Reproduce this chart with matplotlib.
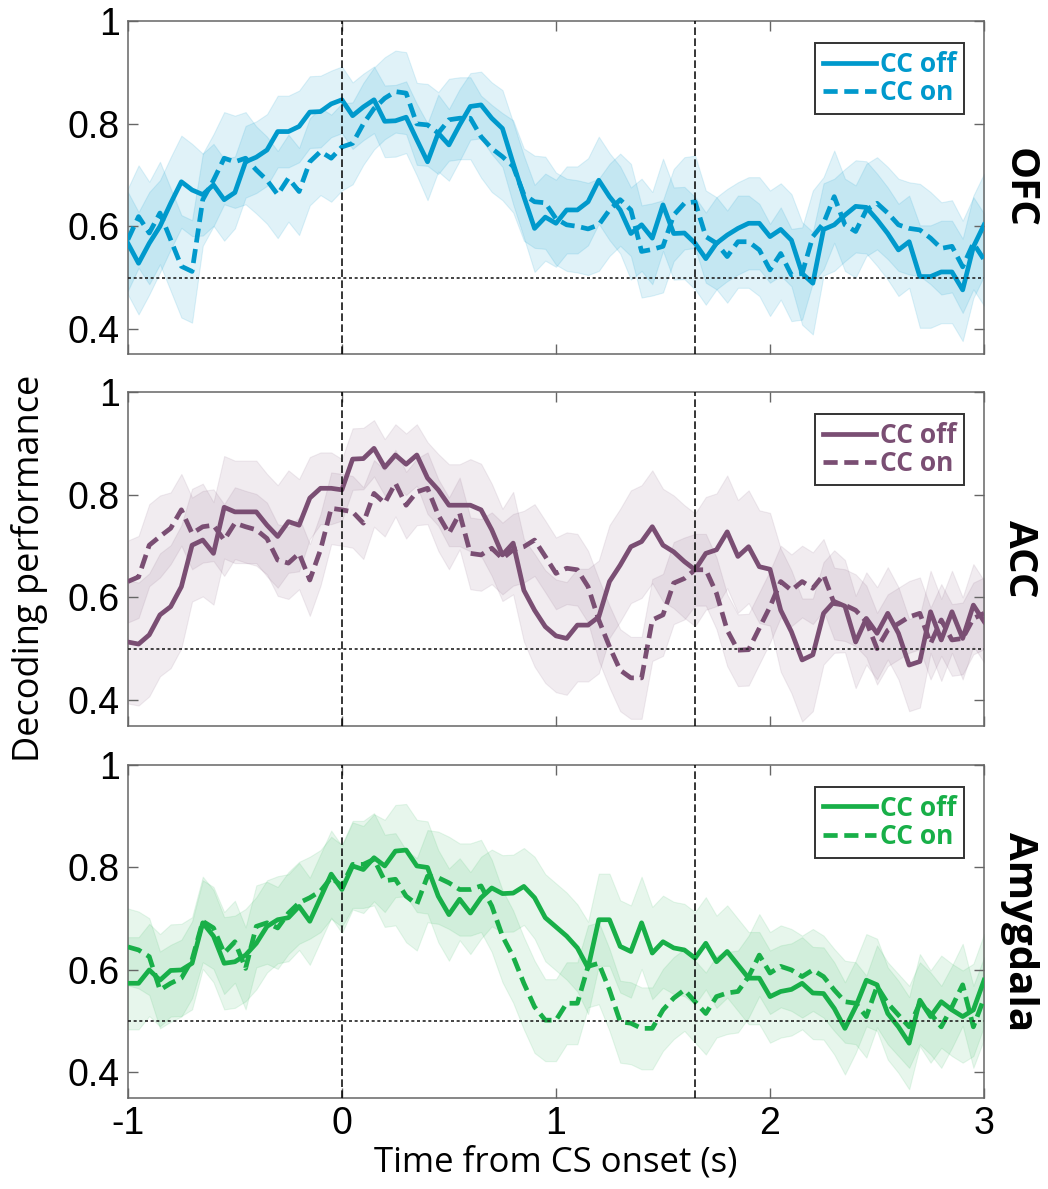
import numpy as np
import matplotlib
matplotlib.use("Agg")
import matplotlib.pyplot as plt

plt.rcParams['font.family'] = ['Liberation Sans', 'DejaVu Sans']

# time axis, 0.05 s bins from -1 to 3 s
t = np.linspace(-1, 3, 81)

# ---- OFC ----
ofc_off = [0.567, 0.528, 0.567, 0.600, 0.645, 0.687, 0.671, 0.662, 0.681, 0.652,
           0.666, 0.726, 0.735, 0.749, 0.785, 0.785, 0.795, 0.823, 0.824, 0.839,
           0.847, 0.816, 0.833, 0.847, 0.805, 0.806, 0.813, 0.769, 0.726, 0.782,
           0.759, 0.798, 0.834, 0.837, 0.811, 0.791, 0.723, 0.658, 0.596, 0.618,
           0.606,
           0.632, 0.632, 0.648, 0.690, 0.658, 0.632, 0.586, 0.603, 0.577, 0.642,
           0.586, 0.587, 0.567, 0.537, 0.567, 0.583, 0.596, 0.606, 0.606, 0.580,
           0.594, 0.573, 0.508, 0.489, 0.594, 0.603, 0.622, 0.639, 0.637, 0.613,
           0.586, 0.554, 0.570, 0.502, 0.502, 0.511, 0.511, 0.476, 0.560, 0.603]
ofc_on = [0.574, 0.619, 0.587, 0.626, 0.574, 0.522, 0.512, 0.652, 0.690, 0.733,
          0.726, 0.733, 0.710, 0.690, 0.662, 0.694, 0.668, 0.726, 0.746, 0.733,
          0.755, 0.762, 0.800, 0.830, 0.850, 0.863, 0.860, 0.800, 0.798, 0.782,
          0.808, 0.811, 0.811, 0.775, 0.752, 0.736, 0.717, 0.662, 0.648, 0.646,
          0.615,
          0.603, 0.600, 0.595, 0.603, 0.632, 0.652, 0.632, 0.551, 0.555, 0.561,
          0.622, 0.645, 0.648, 0.580, 0.567, 0.541, 0.570, 0.570, 0.554, 0.515,
          0.547, 0.505, 0.508, 0.580, 0.606, 0.658, 0.603, 0.590, 0.632, 0.645,
          0.626, 0.603, 0.596, 0.593, 0.577, 0.557, 0.561, 0.521, 0.567, 0.535]
ofc_off_sem = [0.10, 0.10, 0.10, 0.09, 0.09, 0.09, 0.09, 0.08, 0.08, 0.08,
               0.07, 0.07, 0.07, 0.07, 0.07, 0.07, 0.07, 0.07, 0.07, 0.065,
               0.065, 0.065, 0.065, 0.065, 0.07, 0.07, 0.07, 0.07, 0.075, 0.075,
               0.07, 0.07, 0.065, 0.065, 0.07, 0.075, 0.08, 0.08, 0.085, 0.085,
               0.085,
               0.085, 0.085, 0.085, 0.085, 0.085, 0.085, 0.09, 0.09, 0.09, 0.09,
               0.09, 0.09, 0.09, 0.09, 0.09, 0.09, 0.09, 0.09, 0.09, 0.09,
               0.09, 0.09, 0.10, 0.10, 0.09, 0.09, 0.09, 0.09, 0.09, 0.09,
               0.09, 0.09, 0.09, 0.10, 0.10, 0.10, 0.10, 0.10, 0.10, 0.10]
ofc_on_sem = [0.10, 0.10, 0.10, 0.10, 0.10, 0.10, 0.10, 0.09, 0.09, 0.09,
              0.09, 0.09, 0.085, 0.085, 0.085, 0.085, 0.085, 0.085, 0.085, 0.085,
              0.085, 0.08, 0.08, 0.08, 0.08, 0.08, 0.08, 0.08, 0.08, 0.08,
              0.08, 0.08, 0.08, 0.08, 0.085, 0.085, 0.09, 0.09, 0.09, 0.09,
              0.09,
              0.09, 0.09, 0.09, 0.09, 0.09, 0.09, 0.09, 0.09, 0.09, 0.09,
              0.09, 0.09, 0.09, 0.09, 0.09, 0.09, 0.09, 0.09, 0.09, 0.09,
              0.09, 0.09, 0.09, 0.09, 0.09, 0.09, 0.09, 0.09, 0.09, 0.09,
              0.09, 0.09, 0.09, 0.09, 0.09, 0.09, 0.09, 0.09, 0.09, 0.09]

# ---- ACC ----
acc_off = [0.513, 0.509, 0.527, 0.566, 0.582, 0.621, 0.702, 0.712, 0.686, 0.776,
           0.767, 0.767, 0.767, 0.741, 0.719, 0.748, 0.741, 0.794, 0.813, 0.813,
           0.810, 0.870, 0.871, 0.891, 0.854, 0.878, 0.860, 0.878, 0.833, 0.810,
           0.780, 0.780, 0.780, 0.771, 0.732, 0.683, 0.706, 0.614, 0.575, 0.543,
           0.525,
           0.520, 0.546, 0.546, 0.562, 0.631, 0.663, 0.699, 0.709, 0.738, 0.702,
           0.689, 0.670, 0.654, 0.686, 0.693, 0.728, 0.680, 0.699, 0.660, 0.655,
           0.575, 0.533, 0.478, 0.488, 0.569, 0.592, 0.583, 0.513, 0.559, 0.530,
           0.569, 0.530, 0.468, 0.475, 0.572, 0.517, 0.572, 0.520, 0.585, 0.553]
acc_on = [0.631, 0.640, 0.702, 0.719, 0.735, 0.771, 0.725, 0.738, 0.741, 0.712,
          0.745, 0.738, 0.732, 0.715, 0.673, 0.667, 0.686, 0.634, 0.693, 0.774,
          0.771, 0.767, 0.745, 0.803, 0.784, 0.823, 0.780, 0.806, 0.813, 0.761,
          0.725, 0.764, 0.686, 0.683, 0.696, 0.676, 0.693, 0.699, 0.712, 0.680,
          0.647,
          0.657, 0.654, 0.621, 0.556, 0.504, 0.458, 0.443, 0.443, 0.556, 0.566,
          0.628, 0.637, 0.654, 0.654, 0.608, 0.536, 0.497, 0.498, 0.540, 0.582,
          0.631, 0.614, 0.631, 0.618, 0.644, 0.588, 0.585, 0.575, 0.553, 0.500,
          0.536, 0.549, 0.562, 0.569, 0.510, 0.556, 0.517, 0.520, 0.559, 0.569]
acc_off_sem = [0.12, 0.12, 0.12, 0.12, 0.12, 0.12, 0.11, 0.11, 0.10, 0.10,
               0.10, 0.10, 0.10, 0.10, 0.10, 0.10, 0.09, 0.08, 0.07, 0.07,
               0.06, 0.06, 0.06, 0.055, 0.055, 0.06, 0.06, 0.06, 0.07, 0.07,
               0.08, 0.08, 0.09, 0.09, 0.09, 0.09, 0.10, 0.10, 0.11, 0.11,
               0.11,
               0.11, 0.11, 0.11, 0.11, 0.11, 0.11, 0.11, 0.11, 0.11, 0.11,
               0.11, 0.11, 0.11, 0.11, 0.11, 0.11, 0.11, 0.11, 0.11, 0.11,
               0.12, 0.12, 0.12, 0.11, 0.10, 0.10, 0.09, 0.09, 0.09, 0.09,
               0.09, 0.09, 0.09, 0.09, 0.08, 0.08, 0.08, 0.08, 0.08, 0.08]
acc_on_sem = [0.08, 0.08, 0.08, 0.08, 0.07, 0.07, 0.07, 0.07, 0.07, 0.07,
              0.07, 0.07, 0.07, 0.07, 0.07, 0.07, 0.07, 0.07, 0.07, 0.07,
              0.07, 0.07, 0.07, 0.065, 0.065, 0.065, 0.065, 0.065, 0.07, 0.07,
              0.07, 0.07, 0.07, 0.07, 0.07, 0.07, 0.07, 0.07, 0.07, 0.07,
              0.07,
              0.07, 0.07, 0.07, 0.08, 0.08, 0.08, 0.08, 0.08, 0.08, 0.08,
              0.08, 0.08, 0.07, 0.07, 0.07, 0.07, 0.07, 0.07, 0.07, 0.07,
              0.07, 0.07, 0.07, 0.07, 0.07, 0.07, 0.07, 0.07, 0.07, 0.07,
              0.07, 0.07, 0.07, 0.07, 0.07, 0.07, 0.07, 0.07, 0.07, 0.07]

# ---- Amygdala ----
amy_off = [0.574, 0.574, 0.600, 0.580, 0.599, 0.600, 0.613, 0.692, 0.666, 0.613,
           0.616, 0.629, 0.652, 0.685, 0.698, 0.702, 0.724, 0.695, 0.741, 0.787,
           0.757, 0.803, 0.796, 0.819, 0.803, 0.832, 0.834, 0.803, 0.800, 0.744,
           0.708, 0.738, 0.711, 0.741, 0.760, 0.749, 0.750, 0.763, 0.741, 0.702,
           0.684,
           0.666, 0.643, 0.604, 0.698, 0.698, 0.646, 0.636, 0.692, 0.633, 0.655,
           0.643, 0.639, 0.623, 0.652, 0.616, 0.636, 0.610, 0.584, 0.584, 0.548,
           0.558, 0.562, 0.574, 0.555, 0.554, 0.525, 0.486, 0.528, 0.580, 0.571,
           0.515, 0.489, 0.457, 0.541, 0.509, 0.538, 0.522, 0.509, 0.522, 0.580]
amy_on = [0.645, 0.639, 0.626, 0.561, 0.574, 0.584, 0.620, 0.695, 0.682, 0.633,
          0.655, 0.603, 0.685, 0.692, 0.682, 0.711, 0.731, 0.741, 0.754, 0.780,
          0.764, 0.806, 0.806, 0.816, 0.774, 0.777, 0.744, 0.728, 0.783, 0.780,
          0.770, 0.757, 0.757, 0.764, 0.725, 0.666, 0.626, 0.574, 0.528, 0.502,
          0.502,
          0.535, 0.535, 0.607, 0.613, 0.561, 0.499, 0.496, 0.486, 0.486, 0.522,
          0.545, 0.561, 0.538, 0.515, 0.548, 0.555, 0.558, 0.587, 0.629, 0.594,
          0.607, 0.600, 0.587, 0.600, 0.587, 0.561, 0.538, 0.535, 0.509, 0.568,
          0.535, 0.512, 0.489, 0.535, 0.515, 0.489, 0.528, 0.571, 0.489, 0.545]
amy_off_sem = [0.09, 0.09, 0.09, 0.09, 0.09, 0.09, 0.09, 0.09, 0.09, 0.09,
               0.09, 0.09, 0.09, 0.09, 0.085, 0.085, 0.085, 0.085, 0.085, 0.085,
               0.085, 0.085, 0.085, 0.085, 0.09, 0.09, 0.09, 0.09, 0.09, 0.09,
               0.09, 0.08, 0.08, 0.08, 0.075, 0.075, 0.075, 0.075, 0.08, 0.085,
               0.085,
               0.085, 0.085, 0.09, 0.09, 0.09, 0.09, 0.09, 0.09, 0.09, 0.09,
               0.09, 0.09, 0.09, 0.09, 0.09, 0.09, 0.09, 0.09, 0.09, 0.09,
               0.09, 0.09, 0.09, 0.09, 0.09, 0.09, 0.09, 0.09, 0.09, 0.09,
               0.09, 0.09, 0.09, 0.09, 0.09, 0.09, 0.09, 0.09, 0.09, 0.09]
amy_on_sem = [0.075, 0.075, 0.075, 0.075, 0.075, 0.075, 0.075, 0.08, 0.08, 0.08,
              0.08, 0.08, 0.08, 0.08, 0.08, 0.08, 0.08, 0.08, 0.08, 0.08,
              0.08, 0.085, 0.085, 0.09, 0.09, 0.09, 0.09, 0.09, 0.09, 0.09,
              0.09, 0.09, 0.09, 0.09, 0.09, 0.09, 0.09, 0.09, 0.09, 0.08,
              0.08,
              0.08, 0.08, 0.08, 0.08, 0.08, 0.08, 0.08, 0.08, 0.08, 0.08,
              0.08, 0.08, 0.08, 0.08, 0.08, 0.08, 0.08, 0.08, 0.08, 0.08,
              0.08, 0.08, 0.08, 0.08, 0.08, 0.08, 0.08, 0.08, 0.08, 0.08,
              0.08, 0.08, 0.08, 0.08, 0.08, 0.08, 0.08, 0.08, 0.08, 0.08]

regions = ["OFC", "ACC", "Amygdala"]
colors = ["#0099CC", "#7A4E73", "#18AF48"]
band_alpha = [0.12, 0.10, 0.10]
series = [(ofc_off, ofc_on, ofc_off_sem, ofc_on_sem),
          (acc_off, acc_on, acc_off_sem, acc_on_sem),
          (amy_off, amy_on, amy_off_sem, amy_on_sem)]
event_times = [0, 1.65]
chance = 0.5

fig = plt.figure(figsize=(10.48, 11.89), dpi=100)
bottoms = [0.7019, 0.3898, 0.0765]
spine_col = "#666666"

for i, region in enumerate(regions):
    ax = fig.add_axes([0.122, bottoms[i], 0.817, 0.2801])
    c = colors[i]
    off, on, off_sem, on_sem = [np.array(s) for s in series[i]]

    ax.fill_between(t, off - off_sem, off + off_sem, color=c, alpha=band_alpha[i], lw=0.8)
    ax.fill_between(t, on - on_sem, on + on_sem, color=c, alpha=band_alpha[i], lw=0.8)
    ax.plot(t, off, color=c, lw=3.4, label="CC off", zorder=3)
    ax.plot(t, on, color=c, lw=3.4, dashes=(3.0, 1.4), label="CC on", zorder=3)

    for et in event_times:
        ax.axvline(et, color="black", lw=1.1, dashes=(5, 2.2), zorder=4)
    ax.axhline(chance, color="#222222", lw=1.2, dashes=(1.8, 1.6), zorder=4)

    ax.set_xlim(-1, 3)
    ax.set_ylim(0.35, 1)
    ax.set_xticks([-1, 0, 1, 2, 3])
    ax.set_yticks([0.4, 0.6, 0.8, 1])
    ax.set_yticklabels(["0.4", "0.6", "0.8", "1"])
    ax.tick_params(direction="in", length=7, width=1, color=spine_col,
                   top=True, right=True, labelsize=27, pad=6)
    for sp in ax.spines.values():
        sp.set_color(spine_col)
        sp.set_linewidth(1.1)
    if i < 2:
        ax.set_xticklabels([])
    else:
        ax.set_xticklabels(["-1", "0", "1", "2", "3"])
        ax.set_xlabel("Time from CS onset (s)", fontsize=25, family="Open Sans", labelpad=2)

    leg = ax.legend(loc="upper right", bbox_to_anchor=(0.977, 0.935),
                    prop={"family": "Open Sans", "weight": "bold", "size": 19},
                    labelcolor="linecolor", handlelength=2.0, handletextpad=0.15,
                    labelspacing=0.05, borderpad=0.3, borderaxespad=0,
                    fancybox=False, framealpha=1)
    leg.get_frame().set_edgecolor("#333333")
    leg.get_frame().set_linewidth(1.4)

    ax.text(1.041, 0.5, region, transform=ax.transAxes, rotation=-90,
            ha="center", va="center", fontsize=29, fontweight="bold", family="Open Sans")

fig.text(0.028, 0.522, "Decoding performance", rotation=90, ha="center", va="center",
         fontsize=26, family="Open Sans")

fig.savefig("out.png", dpi=100)
